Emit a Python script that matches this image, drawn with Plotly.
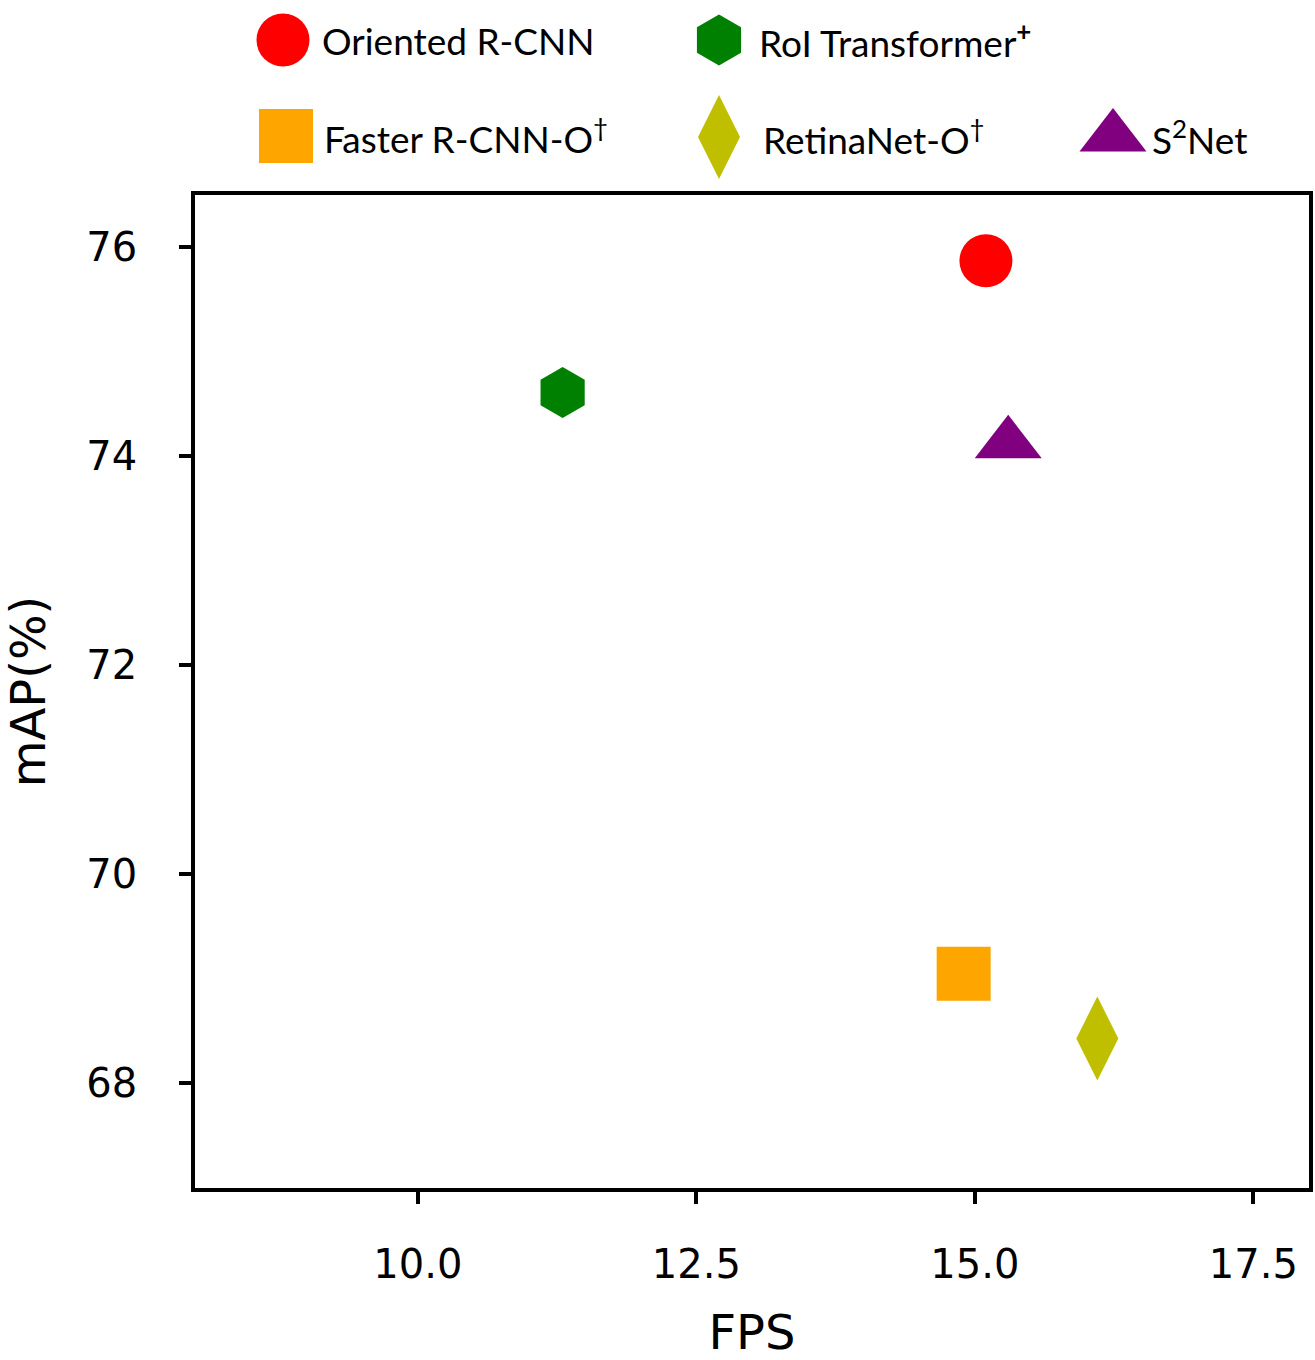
import plotly.graph_objects as go

# values (FPS vs mAP on DOTA)
methods = ["Oriented R-CNN", "RoI Transformer", "Faster R-CNN-O", "RetinaNet-O", "S2Net"]
legend_labels = ["Oriented R-CNN", "RoI Transformer<sup><b>+</b></sup>",
                 "Faster R-CNN-O<sup>†</sup>", "RetinaNet-O<sup>†</sup>", "S<sup>2</sup>Net"]
fps = [15.1, 11.3, 14.9, 16.1, 15.3]
map_pct = [75.87, 74.61, 69.05, 68.43, 74.12]

symbols = ["circle", "hexagon", "square", "diamond-tall", "triangle-up"]
colors = ["#ff0000", "#008000", "#ffa500", "#bfbf00", "#800080"]
sizes = [53, 51, 54, 60, 58]

# legend grid, in pixels of the page (legend strip above the plot)
legend_x = [283, 719, 286, 719, 1113]
legend_y = [40, 40, 136, 137, 137]
legend_text_x = [320, 757, 322, 761, 1150]

W, H = 1315, 1360
plot_left, plot_right, plot_top, plot_bottom = 195, 1309, 195, 1188
L, R, B = plot_left, W - plot_right, H - plot_bottom
paper_h = H - B

fig = go.Figure()

for m, x, y, s, c, sz in zip(methods, fps, map_pct, symbols, colors, sizes):
    fig.add_trace(go.Scatter(
        x=[x], y=[y], mode="markers", name=m,
        marker=dict(symbol=s, color=c, size=sz, line=dict(width=0)),
        showlegend=False, xaxis="x", yaxis="y",
    ))

# hand-made legend so the symbols keep the same size as in the plot
for lab, lx, ly, tx, s, c, sz in zip(legend_labels, legend_x, legend_y, legend_text_x,
                                      symbols, colors, sizes):
    fig.add_trace(go.Scatter(
        x=[lx], y=[ly], mode="markers", showlegend=False, hoverinfo="skip",
        marker=dict(symbol=s, color=c, size=sz, line=dict(width=0)),
        xaxis="x2", yaxis="y2",
    ))
    fig.add_annotation(
        x=tx, y=ly, xref="x2", yref="y2", text=lab, showarrow=False,
        xanchor="left", yanchor="middle",
        font=dict(family="Lato", size=37, color="black"),
    )

axis_common = dict(
    showline=True, linecolor="black", linewidth=3.8, mirror=True,
    ticks="outside", ticklen=12, tickwidth=4, tickcolor="black",
    showgrid=False, zeroline=False,
    tickfont=dict(family="DejaVu Sans", size=40, color="black"),
)

fig.update_layout(
    width=W, height=H,
    margin=dict(l=L, r=R, t=0, b=B),
    paper_bgcolor="white", plot_bgcolor="white",
    xaxis=dict(
        range=[8, 18], tickvals=[10, 12.5, 15, 17.5],
        ticktext=["10.0", "12.5", "15.0", "17.5"],
        ticklabelstandoff=26,
        title=dict(text="FPS", font=dict(family="DejaVu Sans", size=48, color="black"),
                   standoff=40),
        domain=[0, 1], anchor="y",
        **axis_common,
    ),
    yaxis=dict(
        range=[67, 76.5], tickvals=[68, 70, 72, 74, 76],
        ticklabelstandoff=34,
        title=dict(text="mAP(%)", font=dict(family="DejaVu Sans", size=48, color="black"),
                   standoff=48),
        domain=[0, (paper_h - plot_top) / paper_h], anchor="x",
        **axis_common,
    ),
    xaxis2=dict(range=[plot_left, plot_right], domain=[0, 1], anchor="y2",
                visible=False, fixedrange=True),
    yaxis2=dict(range=[plot_top, 0], domain=[1 - plot_top / paper_h, 1],
                anchor="x2", visible=False, fixedrange=True),
)

# drop the browser's default body margin so the figure fills the window exactly
fig.write_html("out.html", config={"displayModeBar": False},
               post_script="document.body.style.margin='0';")
